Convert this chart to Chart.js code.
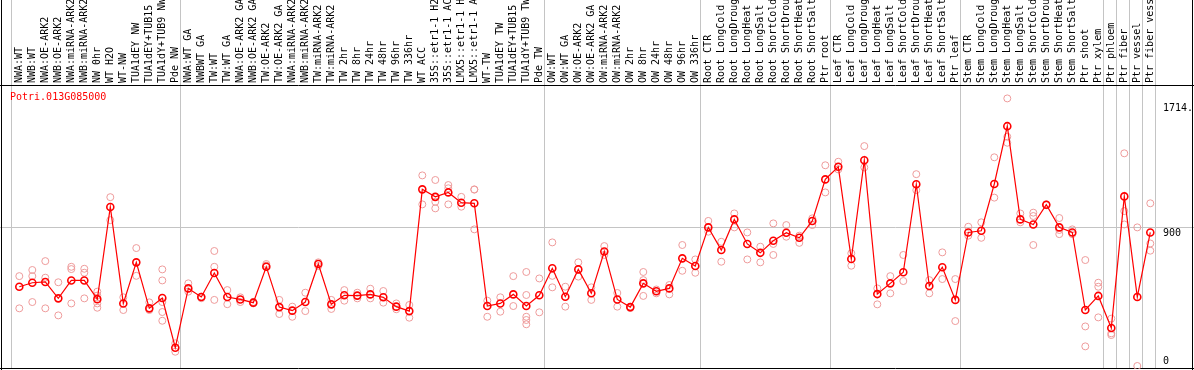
<!DOCTYPE html>
<html>
<head>
<meta charset="utf-8">
<script src="https://cdn.jsdelivr.net/npm/chart.js@4.4.0/dist/chart.umd.min.js"></script>
<style>
  html, body { margin: 0; padding: 0; background: #fff; }
  #wrap { width: 1194px; height: 370px; }
</style>
</head>
<body>
<div id="wrap"><canvas id="expr" width="1194" height="370"></canvas></div>
<script>
const GENE = "Potri.013G085000";

const categories = [
  "NWA:WT", "NWB:WT", "NWA:OE-ARK2", "NWB:OE-ARK2", "NWA:miRNA-ARK2", "NWB:miRNA-ARK2",
  "NW 0hr", "WT H2O", "WT-NW", "TUA1dEY NW", "TUA1dEY+TUB15 NW", "TUA1dY+TUB9 NW", "Pde NW",
  "NWA:WT GA", "NWBWT GA", "TW:WT", "TW:WT GA", "NWA:OE-ARK2 GA", "NWB:OE-ARK2 GA",
  "TW:OE-ARK2", "TW:OE-ARK2 GA", "NWA:miRNA-ARK2", "NWB:miRNA-ARK2", "TW:miRNA-ARK2", "TW:miRNA-ARK2",
  "TW 2hr", "TW 8hr", "TW 24hr", "TW 48hr", "TW 96hr", "TW 336hr", "WT ACC",
  "35S::etr1-1 H2O", "35S::etr1-1 ACC", "LMX5::etr1-1 H2O", "LMX5::etr1-1 ACC",
  "WT-TW", "TUA1dEY TW", "TUA1dEY+TUB15 TW", "TUA1dY+TUB9 TW", "Pde TW",
  "OW:WT", "OW:WT GA", "OW:OE-ARK2", "OW:OE-ARK2 GA", "OW:miRNA-ARK2", "OW:miRNA-ARK2",
  "OW 2hr", "OW 8hr", "OW 24hr", "OW 48hr", "OW 96hr", "OW 336hr",
  "Root CTR", "Root LongCold", "Root LongDrought", "Root LongHeat", "Root LongSalt",
  "Root ShortCold", "Root ShortDrought", "Root ShortHeat", "Root ShortSalt", "Ptr root",
  "Leaf CTR", "Leaf LongCold", "Leaf LongDrought", "Leaf LongHeat", "Leaf LongSalt",
  "Leaf ShortCold", "Leaf ShortDrought", "Leaf ShortHeat", "Leaf ShortSalt", "Ptr leaf",
  "Stem CTR", "Stem LongCold", "Stem LongDrought", "Stem LongHeat", "Stem LongSalt",
  "Stem ShortCold", "Stem ShortDrought", "Stem ShortHeat", "Stem ShortSalt", "Ptr shoot",
  "Ptr xylem", "Ptr phloem", "Ptr fiber", "Ptr vessel", "Ptr fiber vessel"
];

// mean expression per sample (red line)
const means = [
  517, 543, 548, 441, 558, 558, 436, 1037, 408, 676,
  376, 443, 119, 506, 450, 606, 450, 434, 413, 647,
  384, 361, 417, 665, 402, 461, 459, 467, 448, 387,
  358, 1152, 1103, 1132, 1065, 1061, 391, 408, 467, 391,
  461, 637, 452, 630, 474, 747, 434, 384, 539, 487,
  506, 702, 652, 904, 756, 956, 796, 738, 817, 869,
  836, 946, 1217, 1299, 698, 1342, 469, 539, 611, 1185,
  522, 644, 431, 871, 882, 1187, 1564, 956, 923, 1052,
  904, 871, 365, 457, 248, 1106, 450, 871
];

// individual replicates (pink circles)
const replicates = [
  [586, 376], [626, 586, 417], [684, 576, 376], [546, 330], [647, 632, 408],
  [634, 608, 441], [485, 459, 408, 380], [1101, 951], [448, 365], [769, 588],
  [415, 365], [630, 558, 417, 352, 295], [148, 93], [539, 485], [452, 442],
  [750, 647, 431], [495, 403], [448, 417], [418, 408], [665, 655],
  [431, 339], [387, 321], [478, 358], [676, 652], [431, 372],
  [495, 426], [478, 441], [504, 441], [489, 413], [408, 370],
  [398, 315], [1243, 1054], [1213, 1071, 1028], [1180, 1159, 1054], [1103, 1039],
  [1152, 1150, 891], [426, 321], [448, 354], [586, 391], [613, 463, 321, 300, 272],
  [571, 350], [806, 588, 513], [517, 387], [676, 583], [513, 431],
  [782, 724], [476, 387], [386, 378], [613, 560, 457], [499, 474],
  [528, 467], [789, 621], [695, 608], [946, 876], [810, 680],
  [995, 904], [871, 695], [778, 676], [930, 796, 724], [919, 843],
  [850, 803], [963, 919], [1309, 1132], [1332, 1282], [735, 654],
  [1434, 1295], [506, 402], [586, 474], [724, 554], [1251, 1147],
  [560, 474], [741, 567], [567, 293], [908, 850], [937, 836],
  [1361, 1098], [1745, 1495, 1456], [995, 937], [1000, 978, 789], [1054, 1048],
  [965, 887, 860], [891, 860], [691, 258, 128], [543, 517, 317], [309, 213, 202],
  [1387, 1010, 923], [904, 0], [1061, 799, 752]
];

// first sample index of each block (a separator is drawn before each)
const groupStarts = [0, 13, 41, 53, 63, 73, 84, 85, 86, 87, 88];

const yTickValues = [1714, 900, 0];
const yTickLabels = ["1714.", "900", "0"];
const gridValue = 900;

const MONO = '10px "DejaVu Sans Mono", "Liberation Mono", monospace';

const framePlugin = {
  id: "frame",
  beforeDatasetsDraw(chart) {
    const { ctx, chartArea: a, scales: { x, y } } = chart;
    ctx.save();
    ctx.lineWidth = 1;
    ctx.strokeStyle = "#c4c4c4";
    // block separators run through the label strip as well
    groupStarts.forEach((g) => {
      const px = Math.round(x.getPixelForValue(g) - 8.5) + 0.5;
      ctx.beginPath();
      ctx.moveTo(px, 0);
      ctx.lineTo(px, a.bottom);
      ctx.stroke();
    });
    const gy = Math.round(y.getPixelForValue(gridValue)) - 0.5;
    ctx.beginPath();
    ctx.moveTo(0, gy);
    ctx.lineTo(chart.width, gy);
    ctx.stroke();

    // outer box + divider under the labels
    ctx.strokeStyle = "#000";
    ctx.beginPath();
    ctx.moveTo(1.5, 0); ctx.lineTo(1.5, chart.height);
    ctx.moveTo(chart.width - 1.5, 0); ctx.lineTo(chart.width - 1.5, chart.height);
    ctx.moveTo(0, a.top - 0.5); ctx.lineTo(chart.width, a.top - 0.5);
    ctx.moveTo(0, a.bottom - 0.5); ctx.lineTo(chart.width, a.bottom - 0.5);
    ctx.stroke();
    ctx.restore();
  },
  afterDatasetsDraw(chart) {
    const { ctx, chartArea: a, scales: { x, y } } = chart;
    ctx.save();
    ctx.font = MONO;

    // sample names, rotated, reading upwards
    ctx.fillStyle = "#000";
    ctx.textAlign = "left";
    ctx.textBaseline = "middle";
    categories.forEach((c, i) => {
      ctx.save();
      ctx.translate(Math.round(x.getPixelForValue(i)) + 0.5, a.top - 3);
      ctx.rotate(-Math.PI / 2);
      ctx.fillText(c, 0, 0);
      ctx.restore();
    });

    // y tick labels on the right, inside the plot
    yTickValues.forEach((v, i) => {
      const py = y.getPixelForValue(v);
      ctx.textBaseline = v === 0 ? "bottom" : "top";
      ctx.fillText(yTickLabels[i], 1163, py);
    });

    // gene id
    ctx.fillStyle = "#ff0000";
    ctx.textBaseline = "top";
    ctx.fillText(GENE, 10, a.top + 6);
    ctx.restore();
  }
};

const repPoints = [];
replicates.forEach((arr, i) => arr.forEach((v) => repPoints.push({ x: i, y: v })));

new Chart(document.getElementById("expr"), {
  type: "line",
  data: {
    datasets: [
      {
        type: "line",
        data: means.map((v, i) => ({ x: i, y: v })),
        borderColor: "#ff0000",
        borderWidth: 1.2,
        pointRadius: 3.5,
        pointBorderWidth: 1.6,
        pointBorderColor: "#ff0000",
        pointBackgroundColor: "rgba(255,255,255,0)",
        tension: 0,
        order: 0
      },
      {
        type: "scatter",
        data: repPoints,
        showLine: false,
        pointRadius: 3.5,
        pointBorderWidth: 1,
        pointBorderColor: "#ee9b9b",
        pointBackgroundColor: "rgba(255,255,255,0)",
        order: 1
      }
    ]
  },
  options: {
    responsive: false,
    animation: false,
    events: [],
    layout: { autoPadding: false, padding: { top: 86, left: 1, right: 1, bottom: 1 } },
    scales: {
      x: { type: "linear", min: -1.408, max: 90.285, display: false },
      y: { type: "linear", min: -19.6, max: 1826, display: false }
    },
    plugins: { legend: { display: false }, tooltip: { enabled: false } }
  },
  plugins: [framePlugin]
});
</script>
</body>
</html>
